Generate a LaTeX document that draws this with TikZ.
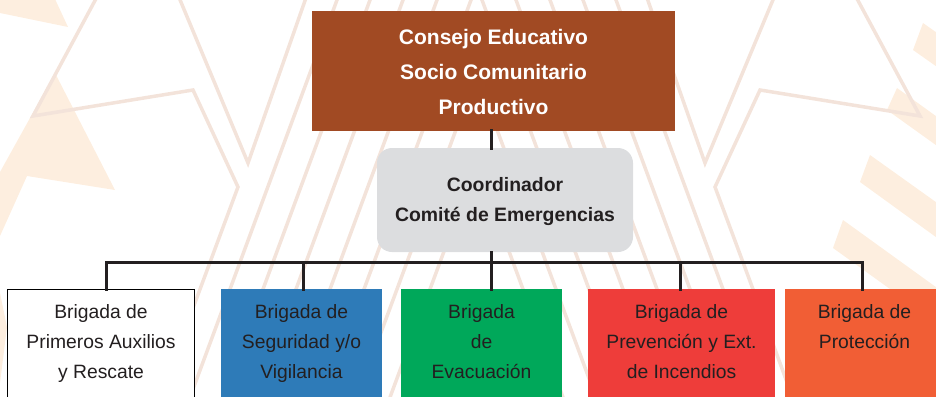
\documentclass[tikz,border=0pt]{standalone}
\usepackage{fontspec}
\setmainfont{Liberation Sans}
\definecolor{brownbox}{HTML}{A14A23}
\definecolor{graybox}{HTML}{DCDDDF}
\definecolor{bluebox}{HTML}{2E7BB8}
\definecolor{greenbox}{HTML}{00A85A}
\definecolor{redbox}{HTML}{EE3D3A}
\definecolor{orangebox}{HTML}{F15E35}
\definecolor{txt}{HTML}{231F20}
\definecolor{connc}{HTML}{231F20}
\definecolor{wmline}{HTML}{F3E3DA}
\definecolor{wmfill}{HTML}{FDEEDF}
\begin{document}
\begin{tikzpicture}[x=1pt,y=-1pt,
  wm/.style={draw=wmline,line width=3.5pt},
  peach/.style={fill=wmfill,draw=none},
  conn/.style={draw=connc,line width=3pt,line cap=rect},
  ttop/.style={font=\fontsize{21}{21}\selectfont\bfseries,text=white,anchor=base,inner sep=0pt},
  tmid/.style={font=\fontsize{19.4}{19.4}\selectfont\bfseries,text=txt,anchor=base,inner sep=0pt},
  tbot/.style={font=\fontsize{19.3}{19.3}\selectfont,text=txt,anchor=base,inner sep=0pt},
  boxnode/.style={inner sep=0pt,outer sep=0pt,anchor=north west}]
\useasboundingbox (0,0) rectangle (936,396);
\clip (0,0) rectangle (936,396);
% ---------- watermark ----------
\path[peach] (0,-1) -- (55,-1) -- (68,27) -- (0,13) -- cycle;
\path[peach] (55,73) -- (115,190) -- (27,176) -- (0,236) -- (0,172) -- cycle;
\path[peach] (0,293) -- (7,327) -- (0,383) -- cycle;
\path[peach] (923,23) -- (940,35) -- (940,69) -- (913,50) -- cycle;
\path[peach] (897,88) -- (940,119) -- (940,148) -- (887,110) -- cycle;
\path[peach] (870,155) -- (940,205) -- (940,240) -- (860,182) -- cycle;
\path[peach] (843,220) -- (940,290) -- (940,325) -- (833,248) -- cycle;
\path[wm] (98,-5) -- (33,116) -- (193,90) -- (238,187) -- (196,300) -- (161,396);
\path[wm] (178,-5) -- (248,163) -- (307,-5);
\path[wm] (855,-5) -- (920,116) -- (760,90) -- (715,187) -- (757,300) -- (792,396);
\path[wm] (775,-5) -- (705,163) -- (646,-5);
\begin{scope}
  \clip (0,0) rectangle (476.5,396);
  \foreach \a in {226,259,292,326,360,393,426}
    \path[wm] ({\a+0.37*310},-10) -- ({\a-0.37*106},406);
\end{scope}
\begin{scope}
  \clip (476.5,0) rectangle (936,396);
  \foreach \a in {226,259,292,326,360,393,426}
    \path[wm] ({953-\a-0.37*310},-10) -- ({953-\a+0.37*106},406);
\end{scope}
% ---------- boxes ----------
\node[boxnode,fill=brownbox,minimum width=363pt,minimum height=119.7pt] (consejo) at (312,11) {};
\node[boxnode,fill=graybox,rounded corners=15pt,minimum width=256pt,minimum height=104pt] (coord) at (377,148) {};
\node[boxnode,fill=white,draw=black,line width=1pt,minimum width=187pt,minimum height=130pt] (b1) at (7.5,289.5) {};
\node[boxnode,fill=bluebox,minimum width=161pt,minimum height=130pt] (b2) at (221,289) {};
\node[boxnode,fill=greenbox,minimum width=161.5pt,minimum height=130pt] (b3) at (400.5,289) {};
\node[boxnode,fill=redbox,minimum width=187pt,minimum height=130pt] (b4) at (588,289) {};
\node[boxnode,fill=orangebox,minimum width=180pt,minimum height=130pt] (b5) at (785,289) {};
% ---------- connectors ----------
\coordinate (cx) at (491,0);
\coordinate (d1) at (106,262);
\coordinate (d2) at (303,262);
\coordinate (d3) at (491,262);
\coordinate (d4) at (680.5,262);
\coordinate (d5) at (862.5,262);
\draw[conn] (consejo.south -| cx) -- (coord.north -| cx);
\draw[conn] (coord.south -| cx) -- (d3);
\draw[conn] (b1.north -| d1) -- (d1) -- (d5) -- (b5.north -| d5);
\draw[conn] (d2) -- (b2.north -| d2);
\draw[conn] (d3) -- (b3.north -| d3);
\draw[conn] (d4) -- (b4.north -| d4);
% ---------- texts ----------
\node[ttop] (t1) at (493.5,44.5) {Consejo Educativo};
\node[ttop] (t2) at (493.5,79.5) {Socio Comunitario};
\node[ttop] (t3) at (493.5,114.5) {Productivo};
\node[tmid] (t4) at (505,191) {Coordinador};
\node[tmid] (t5) at (505,221) {Comité de Emergencias};
\node[tbot] (b1a) at (101,318.5) {Brigada de};
\node[tbot] (b1b) at (101,348.5) {Primeros Auxilios};
\node[tbot] (b1c) at (101,378.5) {y Rescate};
\node[tbot] (b2a) at (301.5,318.5) {Brigada de};
\node[tbot] (b2b) at (301.5,348.5) {Seguridad y/o};
\node[tbot] (b2c) at (301.5,378.5) {Vigilancia};
\node[tbot] (b3a) at (481.5,318.5) {Brigada};
\node[tbot] (b3b) at (481.5,348.5) {de};
\node[tbot] (b3c) at (481.5,378.5) {Evacuación};
\node[tbot] (b4a) at (681.5,318.5) {Brigada de};
\node[tbot] (b4b) at (681.5,348.5) {Prevención y Ext.};
\node[tbot] (b4c) at (681.5,378.5) {de Incendios};
\node[tbot] (b5a) at (864.5,318.5) {Brigada de};
\node[tbot] (b5b) at (864.5,348.5) {Protección};
\end{tikzpicture}
\end{document}
